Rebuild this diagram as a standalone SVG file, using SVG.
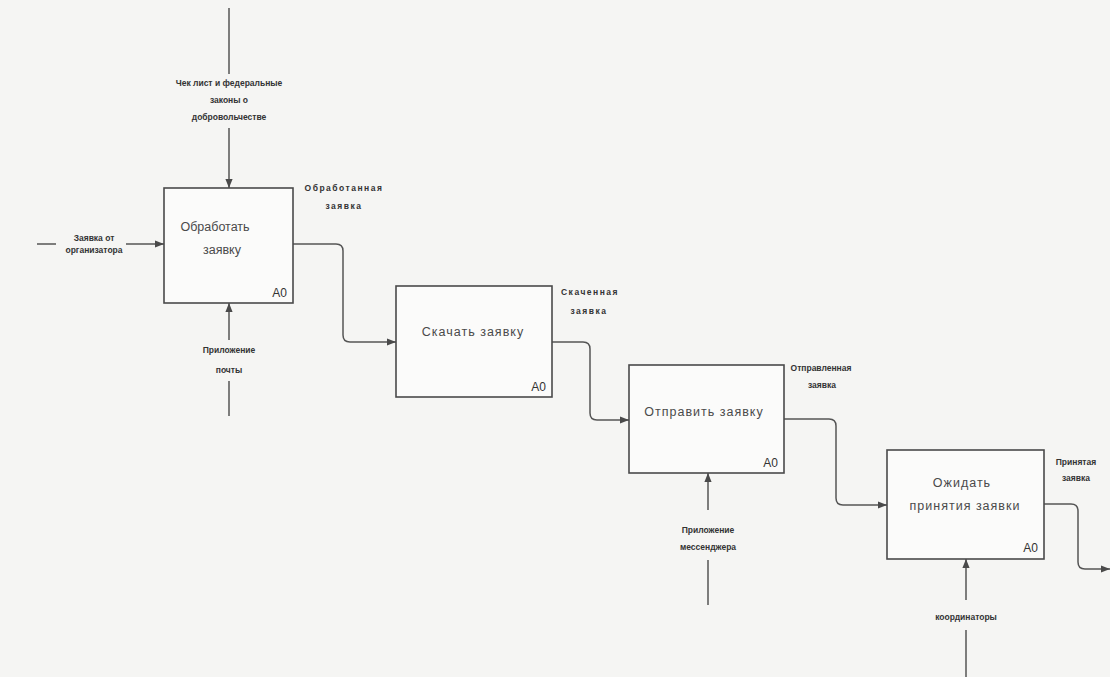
<svg xmlns="http://www.w3.org/2000/svg" width="1110" height="677" viewBox="0 0 1110 677">
  <defs>
    <marker id="arrow" viewBox="0 0 10 10" refX="10" refY="5" markerWidth="9" markerHeight="9" markerUnits="userSpaceOnUse" orient="auto">
      <path d="M0,1 L10,5 L0,9 Z" fill="#4a4a4a"/>
    </marker>
    <style>
      .box { fill: #fbfbfa; stroke: #4a4a4a; stroke-width: 1.6; }
      .title { font-family: "Liberation Sans", Arial, sans-serif; font-size: 12.5px; fill: #4a4a4a; text-anchor: middle; }
      .wide { letter-spacing: 1px; }
      .code { font-family: "Liberation Sans", Arial, sans-serif; font-size: 12px; fill: #333; text-anchor: end; }
      .lbl { font-family: "Liberation Sans", Arial, sans-serif; font-size: 8.5px; fill: #333; text-anchor: middle; font-weight: bold; }
      .lw { letter-spacing: 1.5px; }
      .wire { fill: none; stroke: #555; stroke-width: 1.5; stroke-linejoin: round; }
    </style>
  </defs>
  <rect width="1110" height="677" fill="#f5f5f3"/>

  <!-- connectors -->
  <g id="connectors">
    <!-- input of A0 (1) -->
    <path class="wire" d="M37,244 H56"/>
    <path class="wire" d="M126,244 H164" marker-end="url(#arrow)"/>
    <!-- control of A0 (1) -->
    <path class="wire" d="M229,8 V74"/>
    <path class="wire" d="M229,128 V188" marker-end="url(#arrow)"/>
    <!-- mechanism of A0 (1) -->
    <path class="wire" d="M229,340 V303" marker-end="url(#arrow)"/>
    <path class="wire" d="M229,381 V416"/>
    <!-- 1 -> 2 -->
    <path class="wire" d="M293,244 H336 Q343,244 343,251 V335 Q343,342 350,342 H396" marker-end="url(#arrow)"/>
    <!-- 2 -> 3 -->
    <path class="wire" d="M552,342 H583 Q590,342 590,349 V413 Q590,420 597,420 H629" marker-end="url(#arrow)"/>
    <!-- 3 -> 4 -->
    <path class="wire" d="M784,419 H829 Q836,419 836,426 V498 Q836,505 843,505 H887" marker-end="url(#arrow)"/>
    <!-- output of 4 -->
    <path class="wire" d="M1044,504 H1071 Q1078,504 1078,511 V562 Q1078,569 1085,569 H1110" marker-end="url(#arrow)"/>
    <!-- mechanism of 3 -->
    <path class="wire" d="M708,510 V473" marker-end="url(#arrow)"/>
    <path class="wire" d="M708,560 V605"/>
    <!-- mechanism of 4 -->
    <path class="wire" d="M966,600 V559" marker-end="url(#arrow)"/>
    <path class="wire" d="M966,630 V677"/>

    <!-- arrow labels -->
    <text class="lbl" x="229" y="86">Чек лист и федеральные</text>
    <text class="lbl" x="229" y="103">законы о</text>
    <text class="lbl" x="229" y="120">добровольчестве</text>
    <text class="lbl" x="94" y="241">Заявка от</text>
    <text class="lbl" x="94" y="253">организатора</text>
    <text class="lbl" x="229" y="353">Приложение</text>
    <text class="lbl" x="229" y="373">почты</text>
    <text class="lbl lw" x="344" y="191">Обработанная</text>
    <text class="lbl lw" x="344" y="209">заявка</text>
    <text class="lbl lw" x="590" y="295">Скаченная</text>
    <text class="lbl lw" x="589" y="314">заявка</text>
    <text class="lbl" x="821" y="371">Отправленная</text>
    <text class="lbl" x="822" y="388">заявка</text>
    <text class="lbl" x="708" y="533">Приложение</text>
    <text class="lbl" x="708" y="550">мессенджера</text>
    <text class="lbl" x="1076" y="465">Принятая</text>
    <text class="lbl" x="1076" y="481">заявка</text>
    <text class="lbl" x="966" y="620">координаторы</text>
  </g>

  <!-- activity boxes -->
  <g id="node-a1">
    <rect class="box" x="164" y="188" width="129" height="115"/>
    <text class="title" x="215" y="231">Обработать</text>
    <text class="title" x="222" y="254">заявку</text>
    <text class="code" x="287" y="297">A0</text>
  </g>
  <g id="node-a2">
    <rect class="box" x="396" y="286" width="156" height="111"/>
    <text class="title wide" x="473" y="336">Скачать заявку</text>
    <text class="code" x="546" y="391">A0</text>
  </g>
  <g id="node-a3">
    <rect class="box" x="629" y="365" width="155" height="108"/>
    <text class="title wide" x="704" y="416">Отправить заявку</text>
    <text class="code" x="778" y="467">A0</text>
  </g>
  <g id="node-a4">
    <rect class="box" x="887" y="450" width="157" height="109"/>
    <text class="title wide" x="962" y="487">Ожидать</text>
    <text class="title wide" x="965" y="510">принятия заявки</text>
    <text class="code" x="1038" y="552">A0</text>
  </g>
</svg>
